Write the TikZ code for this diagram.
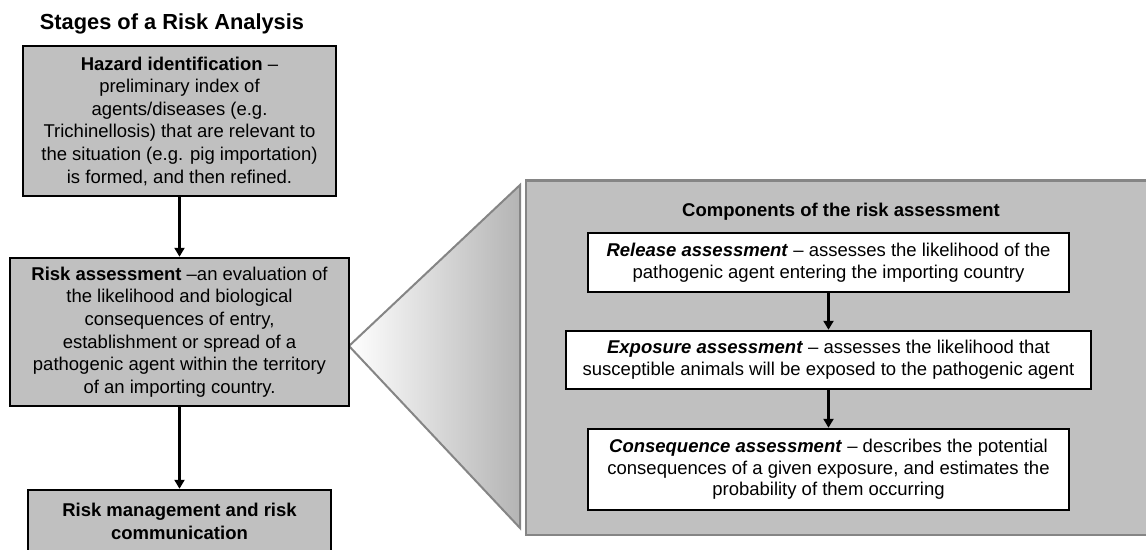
\documentclass[tikz,border=0pt]{standalone}
\usepackage{fontspec}
\setmainfont{Liberation Sans}
\usetikzlibrary{arrows.meta}
\definecolor{boxgray}{HTML}{C0C0C0}
\definecolor{edgegray}{HTML}{858585}
\definecolor{shadegray}{HTML}{B4B4B4}
\begin{document}
\begin{tikzpicture}[x=1pt,y=-1pt,
  txt/.style={font=\fontsize{18.5}{22.6}\selectfont, align=center, inner sep=0pt},
  stagebox/.style={txt, draw=black, line width=2.5pt, fill=boxgray},
  compbox/.style={txt, draw=black, line width=2.5pt, fill=white, font=\fontsize{18.5}{21.7}\selectfont},
  arr/.style={line width=2.5pt, -{Triangle[width=10pt,length=9pt]}}]
\useasboundingbox (0,0) rectangle (1146,549);
\fill[white] (0,0) rectangle (1146,549);
\begin{scope}
\clip (0,0) rectangle (1146,549);
% title
\node[anchor=base, inner sep=0pt, font=\fontsize{21.8}{26}\selectfont\bfseries] (title) at (172,29) {Stages of a Risk Analysis};
% zoom triangle
\shade[left color=white, right color=shadegray, draw=edgegray, line width=2pt, line join=miter]
  (349,346) -- (520,185) -- (520,528) -- cycle;
% big component panel
\draw[fill=boxgray, draw=edgegray, line width=2.8pt] (526,180.5) rectangle (1170,535);
\node[anchor=base, inner sep=0pt, font=\fontsize{18.5}{22}\selectfont\bfseries] (comptitle) at (841,216) {Components of the risk assessment};
% left stages
\node[stagebox, minimum width=313pt, minimum height=150pt] (haz) at (179.5,121)
  {\textbf{Hazard identification} –\\ preliminary index of\\ agents/diseases (e.g.\\ Trichinellosis) that are relevant to\\ the situation (e.g. pig importation)\\ is formed, and then refined.};
\node[stagebox, minimum width=339pt, minimum height=148pt] (risk) at (179.5,332)
  {\textbf{Risk assessment} –an evaluation of\\ the likelihood and biological\\ consequences of entry,\\ establishment or spread of a\\ pathogenic agent within the territory\\ of an importing country.};
\node[stagebox, minimum width=303pt, minimum height=63pt] (mgmt) at (179.5,521.5)
  {\textbf{Risk management and risk}\\ \textbf{communication}};
\draw[arr] (haz) -- (risk);
\draw[arr] (risk) -- (mgmt);
% components
\node[compbox, minimum width=481pt, minimum height=59pt] (rel) at (828.5,262.5)
  {\textbf{\textit{Release assessment}} – assesses the likelihood of the\\ pathogenic agent entering the importing country};
\node[compbox, minimum width=525pt, minimum height=58pt] (exp) at (828.5,360)
  {\textbf{\textit{Exposure assessment}} – assesses the likelihood that\\ susceptible animals will be exposed to the pathogenic agent};
\node[compbox, minimum width=481pt, minimum height=81pt] (cons) at (828.5,469.5)
  {\textbf{\textit{Consequence assessment}} – describes the potential\\ consequences of a given exposure, and estimates the\\ probability of them occurring};
\draw[arr] (rel) -- (exp);
\draw[arr] (exp) -- (cons);
\end{scope}
\end{tikzpicture}
\end{document}
